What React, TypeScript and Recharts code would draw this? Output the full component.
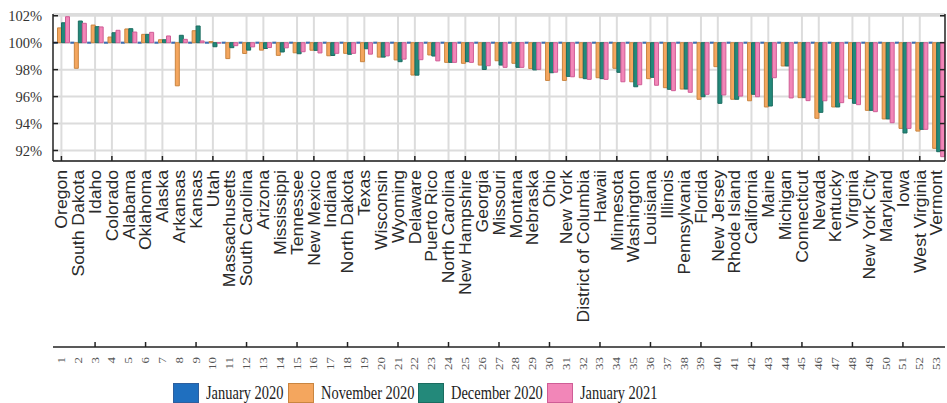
import { BarChart, Bar, XAxis, YAxis, CartesianGrid } from 'recharts';

const STATES = [
  'Oregon', 'South Dakota', 'Idaho', 'Colorado', 'Alabama', 'Oklahoma', 'Alaska', 'Arkansas', 'Kansas', 'Utah',
  'Massachusetts', 'South Carolina', 'Arizona', 'Mississippi', 'Tennessee', 'New Mexico', 'Indiana', 'North Dakota',
  'Texas', 'Wisconsin', 'Wyoming', 'Delaware', 'Puerto Rico', 'North Carolina', 'New Hampshire', 'Georgia',
  'Missouri', 'Montana', 'Nebraska', 'Ohio', 'New York', 'District of Columbia', 'Hawaii', 'Minnesota',
  'Washington', 'Louisiana', 'Illinois', 'Pennsylvania', 'Florida', 'New Jersey', 'Rhode Island', 'California',
  'Maine', 'Michigan', 'Connecticut', 'Nevada', 'Kentucky', 'Virginia', 'New York City', 'Maryland', 'Iowa',
  'West Virginia', 'Vermont',
];

// percent of January 2020 level
const JAN_2020 = [
  100, 100, 100, 100, 100, 100, 100, 100, 100, 100, 100, 100, 100, 100, 100, 100, 100, 100,
  100, 100, 100, 100, 100, 100, 100, 100, 100, 100, 100, 100, 100, 100, 100, 100, 100, 100,
  100, 100, 100, 100, 100, 100, 100, 100, 100, 100, 100, 100, 100, 100, 100, 100, 100,
];
const NOV_2020 = [
  101.1, 98.1, 101.31, 100.42, 101.02, 100.62, 100.22, 96.8, 100.89, 100.08,
  98.82, 99.2, 99.45, 99.06, 99.25, 99.44, 99.03, 99.21, 98.59, 98.93,
  98.72, 97.6, 99.09, 98.54, 98.47, 98.34, 98.66, 98.47, 98.08, 97.2,
  97.2, 97.4, 97.4, 98.1, 97.1, 97.33, 96.66, 96.56, 95.8, 98.22,
  95.8, 95.69, 95.23, 98.27, 95.92, 94.39, 95.23, 95.85, 94.98, 94.34,
  93.64, 93.44, 92.16,
];
const DEC_2020 = [
  101.48, 101.61, 101.19, 100.74, 101.04, 100.62, 100.22, 100.55, 101.24, 99.7,
  99.63, 99.45, 99.57, 99.31, 99.18, 99.43, 99.05, 99.14, 99.55, 98.93,
  98.59, 97.59, 99.01, 98.54, 98.59, 98.01, 98.34, 98.17, 97.98, 97.77,
  97.5, 97.33, 97.33, 97.8, 96.73, 97.43, 96.54, 96.56, 95.99, 95.5,
  95.8, 96.17, 95.3, 98.27, 95.92, 94.83, 95.23, 95.5, 94.98, 94.34,
  93.3, 93.57, 91.91,
];
const JAN_2021 = [
  101.93, 101.44, 101.17, 100.92, 100.79, 100.77, 100.5, 100.25, 100.13, 99.97,
  99.78, 99.69, 99.64, 99.62, 99.33, 99.24, 99.21, 99.21, 99.15, 99.02,
  98.78, 98.74, 98.65, 98.54, 98.54, 98.29, 98.17, 98.17, 98.02, 97.81,
  97.47, 97.28, 97.28, 97.1, 96.88, 96.84, 96.44, 96.32, 96.17, 96.12,
  96.04, 95.99, 97.4, 95.9, 95.7, 95.69, 95.55, 95.4, 94.88, 94.06,
  93.64, 93.57, 91.54,
];
const Y_TICKS = [92, 94, 96, 98, 100, 102];

const BASE = 100;
const data = STATES.map((name, i) => ({
  name,
  num: i + 1,
  jan20: JAN_2020[i] - BASE,
  nov20: NOV_2020[i] - BASE,
  dec20: DEC_2020[i] - BASE,
  jan21: JAN_2021[i] - BASE,
}));
const yTicks = Y_TICKS.map((t) => t - BASE);

const SERIES = [
  { key: 'jan20', label: 'January 2020', fill: '#1f6fbf', stroke: '#2d5f9e', legendX: 173 },
  { key: 'nov20', label: 'November 2020', fill: '#f4a65e', stroke: '#c98540', legendX: 288 },
  { key: 'dec20', label: 'December 2020', fill: '#23897a', stroke: '#1b6c60', legendX: 418 },
  { key: 'jan21', label: 'January 2021', fill: '#f286b8', stroke: '#cf5d96', legendX: 547 },
];

const AXIS = '#222';
const SERIF = '"Liberation Serif", "Times New Roman", serif';
const SANS = '"Liberation Sans", Arial, sans-serif';

function NameTick({ x, y, payload, index }: any) {
  return (
    <g>
      {index % 3 === 0 && <line x1={x} x2={x} y1={y} y2={y - 5} stroke={AXIS} strokeWidth={1.5} />}
      <text
        transform={`translate(${x},${y + 9}) rotate(-90) scale(1.1,1)`}
        textAnchor="end"
        dy="0.36em"
        fontFamily={SANS}
        fontSize={16}
        fill="#2a2a2a"
      >
        {payload.value}
      </text>
    </g>
  );
}

function NumTick({ x, y, payload, index }: any) {
  return (
    <g>
      {index % 3 === 2 && <line x1={x} x2={x} y1={y} y2={y - 5} stroke={AXIS} strokeWidth={1.5} />}
      <text
        transform={`translate(${x},${y + 10}) rotate(-90) scale(1.3,1)`}
        textAnchor="end"
        dy="0.35em"
        fontFamily={SERIF}
        fontSize={10}
        fill="#555"
      >
        {payload.value}
      </text>
    </g>
  );
}

function TopTick({ x, y, index }: any) {
  if (index % 3 !== 0) return <g />;
  return <line x1={x} x2={x} y1={y} y2={y + 5} stroke={AXIS} strokeWidth={1.5} />;
}

function LeftTick({ x, y, payload }: any) {
  return (
    <g>
      <line x1={x} x2={x + 5} y1={y} y2={y} stroke={AXIS} strokeWidth={1.5} />
      <text x={x - 11} y={y} dy="0.35em" textAnchor="end" fontFamily={SERIF} fontSize={14.5} fill="#333">
        {`${payload.value + BASE}%`}
      </text>
    </g>
  );
}

function RightTick({ x, y }: any) {
  return <line x1={x} x2={x - 5} y1={y} y2={y} stroke={AXIS} strokeWidth={1.5} />;
}

// baseline series is flat at 100%, so draw it as a short blue dash
function BaseDash({ x, y, width }: any) {
  return <line x1={x} x2={x + width} y1={y} y2={y} stroke="#3a6db3" strokeWidth={2} />;
}

function gridX({ offset }: any) {
  const step = offset.width / STATES.length;
  return STATES.map((_, i) => i)
    .filter((i) => i % 3 !== 1)
    .map((i) => offset.left + (i + 0.5) * step);
}

export default function App() {
  return (
    <div style={{ position: 'absolute', left: 0, top: 0, width: 947, height: 403, background: '#fff' }}>
      <BarChart
        width={947}
        height={403}
        data={data}
        margin={{ top: 14, right: 0, left: 9, bottom: 0 }}
        barCategoryGap="3%"
        barGap={0}
      >
        <CartesianGrid stroke="#dcdcdc" strokeWidth={2} verticalCoordinatesGenerator={gridX} />
        <XAxis
          dataKey="name"
          interval={0}
          height={186}
          tickSize={0}
          tickMargin={0}
          tickLine={false}
          tick={NameTick}
          axisLine={{ stroke: AXIS, strokeWidth: 1.5 }}
        />
        <XAxis
          xAxisId="num"
          dataKey="num"
          interval={0}
          height={56}
          tickSize={0}
          tickMargin={0}
          tickLine={false}
          tick={NumTick}
          axisLine={{ stroke: AXIS, strokeWidth: 1.5 }}
        />
        <XAxis
          xAxisId="top"
          orientation="top"
          dataKey="name"
          interval={0}
          height={0}
          tickSize={0}
          tickMargin={0}
          tickLine={false}
          tick={TopTick}
          axisLine={{ stroke: AXIS, strokeWidth: 1.5 }}
        />
        <YAxis
          width={44}
          domain={[-8.78, 2.13]}
          allowDataOverflow
          ticks={yTicks}
          interval={0}
          tickSize={0}
          tickMargin={0}
          tickLine={false}
          tick={LeftTick}
          axisLine={{ stroke: AXIS, strokeWidth: 1.5 }}
        />
        <YAxis
          yAxisId="right"
          orientation="right"
          width={2}
          domain={[-8.78, 2.13]}
          allowDataOverflow
          ticks={yTicks}
          interval={0}
          tickSize={0}
          tickMargin={0}
          tickLine={false}
          tick={RightTick}
          axisLine={{ stroke: AXIS, strokeWidth: 1.5 }}
        />
        {SERIES.map((s) => (
          <Bar
            key={s.key}
            dataKey={s.key}
            name={s.label}
            fill={s.fill}
            stroke={s.stroke}
            strokeWidth={1}
            shape={s.key === 'jan20' ? BaseDash : undefined}
            isAnimationActive={false}
          />
        ))}
      </BarChart>
      {SERIES.map((s) => (
        <div
          key={s.key}
          style={{
            position: 'absolute',
            left: s.legendX,
            top: 383,
            height: 19,
            display: 'flex',
            alignItems: 'center',
            fontFamily: SERIF,
            fontSize: 19,
            color: '#222',
            whiteSpace: 'nowrap',
          }}
        >
          <span
            style={{
              display: 'inline-block',
              width: 24,
              height: 18,
              background: s.fill,
              border: `1px solid ${s.stroke}`,
              marginRight: 7,
            }}
          />
          <span style={{ display: 'inline-block', transform: 'scaleX(0.76)', transformOrigin: 'left center' }}>
            {s.label}
          </span>
        </div>
      ))}
    </div>
  );
}
